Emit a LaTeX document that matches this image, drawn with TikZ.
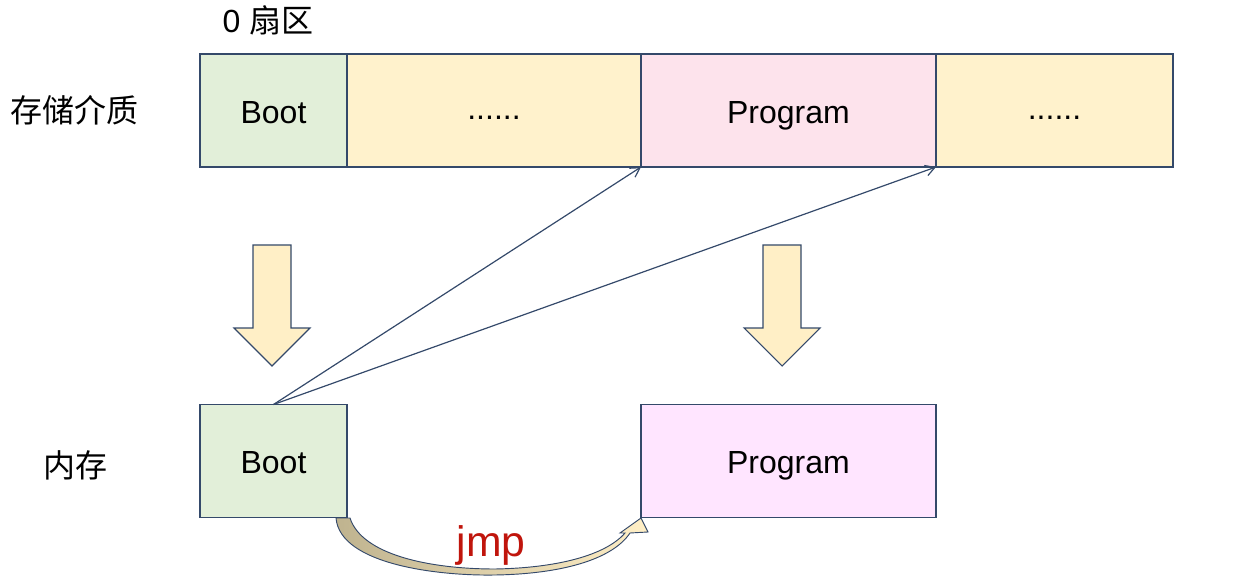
\documentclass[tikz,border=0pt]{standalone}
\usepackage{fontspec}
\setmainfont{Liberation Sans}
\newfontfamily\cjk{Noto Sans CJK SC}
\usetikzlibrary{positioning,arrows.meta}
\definecolor{edgeblue}{HTML}{34496A}
\definecolor{bootgreen}{HTML}{E2EFD9}
\definecolor{dotcream}{HTML}{FFF2CC}
\definecolor{progpink}{HTML}{FDE3EC}
\definecolor{proglilac}{HTML}{FFE5FF}
\definecolor{arrowcream}{HTML}{FFEFC6}
\definecolor{jmptan}{HTML}{BFB38F}
\definecolor{jmpred}{HTML}{C0150C}
\tikzset{
  cell/.style = {draw = edgeblue, line width = 0.8pt, outer sep = 0pt, inner sep = 0pt,
                 minimum height = 113*0.75pt, text height = 19.4pt, text depth = 0pt,
                 font = \fontsize{24}{28}\selectfont},
  dotcell/.style = {cell, fill = dotcream, text height = 14pt},
  rowlabel/.style = {font = \cjk\fontsize{24}{28}\selectfont},
  thin/.style = {draw = edgeblue, line width = 0.9pt, -{Straight Barb[length=7pt,width=8pt]}}
}
% block arrow pointing down, centred at x, shaft from y=245 to tip at y=366
\newcommand\downarrowblock[1]{%
  \draw [fill = arrowcream, draw = edgeblue, line width = 0.8pt]
    (#1-19,245) -- (#1+19,245) -- (#1+19,328) -- (#1+38,328) -- (#1,366)
    -- (#1-38,328) -- (#1-19,328) -- cycle;}
\begin{document}
\begin{tikzpicture}[x = 0.75pt, y = -0.75pt]
\useasboundingbox (0,0) rectangle (1243,581);
% storage row
\node [cell, fill = bootgreen, minimum width = 147*0.75pt] (boot) at (273.5,110.5) {Boot};
\node [dotcell, minimum width = 294*0.75pt, right = 0pt of boot] (dotsA) {......};
\node [cell, fill = progpink, minimum width = 295*0.75pt, right = 0pt of dotsA] (prog) {Program};
\node [dotcell, minimum width = 237*0.75pt, right = 0pt of prog] (dotsB) {......};
% memory row
\node [cell, fill = bootgreen, minimum width = 147*0.75pt] (bootm) at (273.5,461) {Boot};
\node [cell, fill = proglilac, minimum width = 295*0.75pt] (progm) at (788.5,461) {Program};
% labels
\node [rowlabel] (lstore) at (75,110) {存储介质};
\node [rowlabel] (lmem) at (75,465) {内存};
\node [font = \fontsize{24}{28}\selectfont] (lsector) at (268,20) {0 {\cjk 扇区}};
% loading arrows
\downarrowblock{272}
\downarrowblock{782}
\draw [thin] (bootm.north) -- (prog.south west);
\draw [thin] (bootm.north) -- (dotsB.south west);
% jmp
\draw [left color = jmptan, right color = arrowcream, draw = edgeblue, line width = 0.7pt]
  (336,518) .. controls (340,565) and (440,576) .. (495,575)
  .. controls (560,574) and (612,560) .. (630,533)
  -- (648,532) -- (641,518) -- (620,533) -- (625,533)
  .. controls (605,556) and (555,568) .. (495,569)
  .. controls (430,569) and (362,555) .. (350,518) -- cycle;
\node [text = jmpred, font = \fontsize{32}{36}\selectfont] (ljmp) at (491,545) {jmp};
\end{tikzpicture}
\end{document}
